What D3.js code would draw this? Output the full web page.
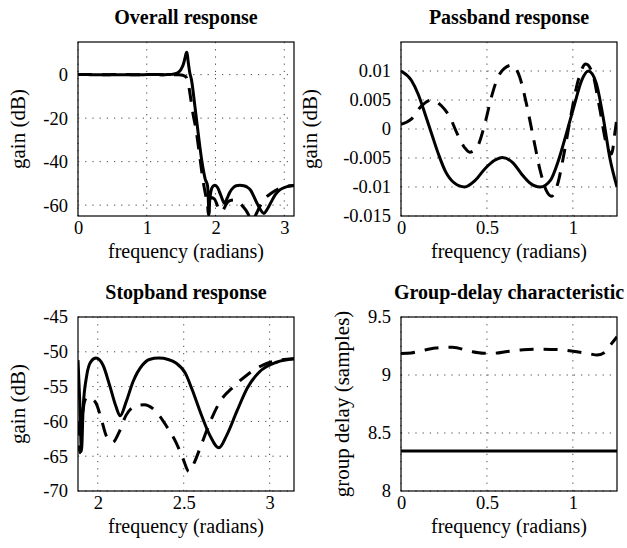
<!DOCTYPE html>
<html>
<head>
<meta charset="utf-8">
<script src="https://cdn.jsdelivr.net/npm/d3@7"></script>
<style>
  body { margin: 0; background: #fff; }
  svg { display: block; }
  text { font-family: "Liberation Serif", "Times New Roman", serif; fill: #000; }
</style>
</head>
<body>
<div id="chart"></div>
<script>
var PI = Math.PI;

// passband 0 .. 0.4*pi  (gain in dB)
var passFreqSolid = [0, 0.06, 0.10, 0.14, 0.18, 0.22, 0.26, 0.31, 0.37, 0.43, 0.49, 0.545, 0.59, 0.65, 0.70, 0.75, 0.81, 0.87, 0.915, 0.96, 1.01, 1.05, 1.09, 1.135, 1.175, 1.215, 1.2566];
var passGainSolid = [0.0100, 0.0084, 0.0060, 0.0026, -0.0010, -0.0045, -0.0074, -0.0093, -0.0100, -0.0089, -0.0068, -0.0054, -0.0049, -0.0058, -0.0077, -0.0093, -0.0100, -0.0088, -0.0055, -0.0010, 0.0043, 0.0083, 0.0100, 0.0080, 0.0022, -0.0050, -0.0100];
var passFreqDash = [0, 0.06, 0.12, 0.18, 0.235, 0.285, 0.33, 0.37, 0.40, 0.445, 0.487, 0.525, 0.565, 0.60, 0.645, 0.69, 0.73, 0.77, 0.81, 0.845, 0.876, 0.91, 0.95, 0.99, 1.03, 1.075, 1.115, 1.155, 1.195, 1.225, 1.245, 1.2566];
var passGainDash = [0.0008, 0.0017, 0.0040, 0.0050, 0.0040, 0.0020, -0.0010, -0.0032, -0.0040, -0.0030, 0.0008, 0.0054, 0.0090, 0.0104, 0.0110, 0.0090, 0.0043, -0.0015, -0.0072, -0.0106, -0.0116, -0.0096, -0.0040, 0.0026, 0.0083, 0.0112, 0.0095, 0.0037, -0.0026, -0.0043, -0.0005, 0.0020];

// transition band
var transFreqSolid = [1.30, 1.35, 1.40, 1.45, 1.50, 1.53, 1.555, 1.575, 1.585, 1.60, 1.625, 1.65, 1.70, 1.75, 1.80, 1.85];
var transGainSolid = [0.02, 0.1, 0.3, 0.8, 2.5, 4.5, 7.5, 10.0, 10.3, 6.5, 1.0, -2.3, -14.5, -27.5, -39.5, -48];
var transFreqDash = [1.30, 1.40, 1.45, 1.50, 1.54, 1.58, 1.60, 1.63, 1.67, 1.72, 1.77, 1.82, 1.86];
var transGainDash = [0, 0, -0.05, -0.15, -0.5, -1.5, -3.5, -9, -17.5, -26, -37.5, -49, -56];

// stopband 0.6*pi .. pi
var stopFreqSolid = [1.885, 1.895, 1.905, 1.915, 1.935, 1.96, 1.99, 2.03, 2.07, 2.105, 2.13, 2.165, 2.205, 2.26, 2.30, 2.355, 2.41, 2.455, 2.51, 2.55, 2.60, 2.65, 2.705, 2.75, 2.81, 2.87, 2.94, 3.04, 3.1416];
var stopGainSolid = [-51.2, -57, -64.3, -58, -53.5, -51.4, -50.9, -51.9, -54.9, -57.8, -59.2, -57.2, -54.3, -51.9, -51.1, -50.9, -51.1, -51.6, -53.1, -55.5, -58.9, -61.9, -63.8, -62.0, -58.5, -55.2, -52.9, -51.5, -51.0];
var stopFreqDash = [1.885, 1.897, 1.91, 1.925, 1.94, 1.965, 1.99, 2.02, 2.05, 2.087, 2.125, 2.165, 2.21, 2.27, 2.34, 2.40, 2.455, 2.495, 2.53, 2.56, 2.60, 2.655, 2.71, 2.79, 2.865, 2.96, 3.06, 3.1416];
var stopGainDash = [-60, -64.5, -59.5, -57, -56.5, -56.8, -57.4, -59.6, -62.1, -63.0, -61.5, -59.1, -57.9, -57.6, -58.6, -60.7, -63.0, -65.3, -67.2, -66.0, -63.5, -60.0, -57.2, -55.0, -53.4, -51.9, -51.2, -51.0];

// group delay (samples)
var gdFreqSolid = [0, 1.2566];
var gdSolid = [8.345, 8.345];
var gdFreqDash = [0, 0.06, 0.11, 0.2, 0.3, 0.4, 0.48, 0.54, 0.62, 0.71, 0.81, 0.92, 1.0, 1.1, 1.14, 1.19, 1.225, 1.2566];
var gdDash = [9.185, 9.19, 9.205, 9.232, 9.24, 9.205, 9.188, 9.188, 9.203, 9.217, 9.223, 9.218, 9.205, 9.182, 9.172, 9.20, 9.27, 9.33];

// tick labels
var overallXTicks = [0, 1, 2, 3];
var overallYTicks = [0, -20, -40, -60];
var passXTicks = [0, 0.5, 1];
var passYTicks = [0.01, 0.005, 0, -0.005, -0.01, -0.015];
var passYLabels = ["0.01", "0.005", "0", "-0.005", "-0.01", "-0.015"];
var stopXTicks = [2, 2.5, 3];
var stopYTicks = [-45, -50, -55, -60, -65, -70];
var gdXTicks = [0, 0.5, 1];
var gdYTicks = [9.5, 9, 8.5, 8];

function pts(f, g) {
    var out = [];
    for (var i = 0; i < f.length; i++) out.push([f[i], g[i]]);
    return out;
}

var passSolid = pts(passFreqSolid, passGainSolid);
var passDash = pts(passFreqDash, passGainDash);
var stopSolid = pts(stopFreqSolid, stopGainSolid);
var stopDash = pts(stopFreqDash, stopGainDash);
var overallSolid = passSolid.concat(pts(transFreqSolid, transGainSolid), stopSolid);
var overallDash = passDash.concat(pts(transFreqDash, transGainDash), stopDash);

var W = 216, H = 174;
var panels = [
    {title: "Overall response", left: 78, top: 42, xDomain: [0, PI], yDomain: [-65, 15],
     xTicks: overallXTicks, yTicks: overallYTicks, ylabel: "gain (dB)", ylabelOff: 53,
     solid: overallSolid, dash: overallDash},
    {title: "Passband response", left: 401, top: 42, xDomain: [0, 0.4 * PI], yDomain: [-0.015, 0.015],
     xTicks: passXTicks, yTicks: passYTicks, yFmt: function(d, i) { return passYLabels[i]; },
     ylabel: "gain (dB)", ylabelOff: 84, solid: passSolid, dash: passDash},
    {title: "Stopband response", left: 78, top: 317, xDomain: [0.6 * PI, PI], yDomain: [-70, -45],
     xTicks: stopXTicks, yTicks: stopYTicks, ylabel: "gain (dB)", ylabelOff: 53,
     solid: stopSolid, dash: stopDash},
    {title: "Group-delay characteristic", left: 401, top: 317, xDomain: [0, 0.4 * PI], yDomain: [8, 9.5],
     xTicks: gdXTicks, yTicks: gdYTicks, ylabel: "group delay (samples)", ylabelOff: 52,
     solid: pts(gdFreqSolid, gdSolid), dash: pts(gdFreqDash, gdDash)}
];

var svg = d3.select("#chart").append("svg")
    .attr("width", 627).attr("height", 548);
svg.append("rect").attr("width", 627).attr("height", 548).attr("fill", "#fff");

function plain(d) { return String(d); }

panels.forEach(function(p, k) {
    var g = svg.append("g").attr("transform", "translate(" + p.left + "," + p.top + ")");
    var x = d3.scaleLinear().domain(p.xDomain).range([0, W]);
    var y = d3.scaleLinear().domain(p.yDomain).range([H, 0]);

    // dotted grid
    g.selectAll(".gx").data(p.xTicks).enter().append("line")
        .attr("x1", function(d) { return x(d); }).attr("x2", function(d) { return x(d); })
        .attr("y1", 0).attr("y2", H)
        .attr("stroke", "#444").attr("stroke-width", 1).attr("stroke-dasharray", "1.2,6");
    g.selectAll(".gy").data(p.yTicks).enter().append("line")
        .attr("x1", 0).attr("x2", W)
        .attr("y1", function(d) { return y(d); }).attr("y2", function(d) { return y(d); })
        .attr("stroke", "#444").attr("stroke-width", 1).attr("stroke-dasharray", "1.2,6");

    g.append("clipPath").attr("id", "clip" + k)
        .append("rect").attr("width", W).attr("height", H);

    var line = d3.line()
        .x(function(d) { return x(d[0]); })
        .y(function(d) { return y(d[1]); })
        .curve(d3.curveMonotoneX);

    g.append("path").datum(p.dash)
        .attr("clip-path", "url(#clip" + k + ")")
        .attr("d", line).attr("fill", "none").attr("stroke", "#000")
        .attr("stroke-width", 3).attr("stroke-dasharray", "14,10");
    g.append("path").datum(p.solid)
        .attr("clip-path", "url(#clip" + k + ")")
        .attr("d", line).attr("fill", "none").attr("stroke", "#000")
        .attr("stroke-width", 3);

    g.append("rect").attr("width", W).attr("height", H)
        .attr("fill", "none").attr("stroke", "#000").attr("stroke-width", 1.2);

    var xa = g.append("g").attr("transform", "translate(0," + H + ")")
        .call(d3.axisBottom(x).tickValues(p.xTicks).tickSize(0).tickPadding(5).tickFormat(plain));
    var ya = g.append("g")
        .call(d3.axisLeft(y).tickValues(p.yTicks).tickSize(0).tickPadding(10).tickFormat(p.yFmt || plain));
    [xa, ya].forEach(function(a) {
        a.select(".domain").remove();
        a.attr("font-family", null).attr("font-size", null);
        a.selectAll("text").style("font-size", "18.5px");
    });

    g.append("text").attr("x", W / 2).attr("y", -18)
        .attr("text-anchor", "middle").style("font-size", "20px").style("font-weight", "bold")
        .text(p.title);
    g.append("text").attr("x", W / 2).attr("y", H + 42)
        .attr("text-anchor", "middle").style("font-size", "20px")
        .text("frequency (radians)");
    g.append("text").attr("transform", "translate(" + (-p.ylabelOff) + "," + (H / 2) + ") rotate(-90)")
        .attr("text-anchor", "middle").style("font-size", "21px")
        .text(p.ylabel);
});
</script>
</body>
</html>
